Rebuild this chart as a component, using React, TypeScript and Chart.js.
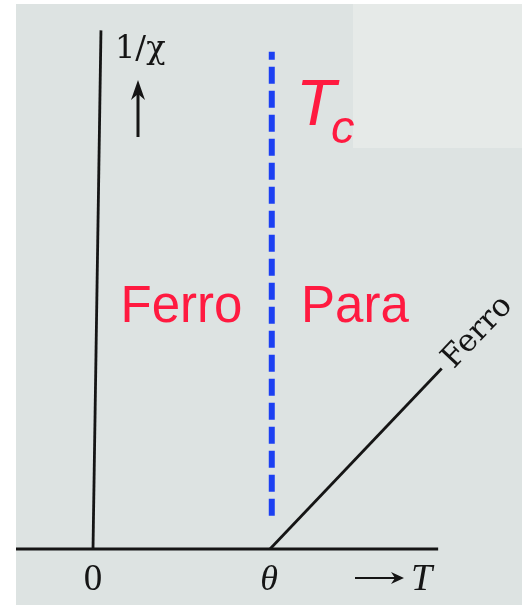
import { useEffect, useRef } from "react";
import { Chart, registerables } from "chart.js";

Chart.register(...registerables);

// Axes of the sketch, in (T, 1/χ) units where θ = 1
const T_AXIS_T = [-0.435, 1.95];
const T_AXIS_INV = [0, 0];
const CHI_AXIS_T = [0, 0.045];
const CHI_AXIS_INV = [0, 2.93];

// Curie–Weiss line above θ
const FERRO_T = [1, 1.97];
const FERRO_INV = [0, 1.02];

// Transition temperature marker
const TC_T = [1.01, 1.01];
const TC_INV = [2.81, 0.18];

// Axis tick labels
const TICK_VALUES = [0, 1];
const TICK_LABELS = ["0", "θ"];

// Region labels and their positions (T, 1/χ)
const REGION_LABELS = ["Ferro", "Para"];
const REGION_T = [0.5, 1.48];
const REGION_INV = [1.28, 1.28];

const X_MIN = -93 / 177;
const X_MAX = 429 / 177;
const Y_MIN = -56 / 177;
const Y_MAX = 549 / 177;

const INK = "#151515";
const RED = "#ff1a40";
const BLUE = "#1c40f2";

const pts = (xs: number[], ys: number[]) => xs.map((x, i) => ({ x, y: ys[i] }));

const sketchPlugin = {
  id: "sketch",
  beforeDraw(chart: any) {
    const { ctx, width, height } = chart;
    ctx.save();
    ctx.fillStyle = "#ffffff";
    ctx.fillRect(0, 0, width, height);
    ctx.fillStyle = "#dde3e2";
    ctx.fillRect(16, 4, width - 16, height - 4);
    ctx.fillStyle = "#e6eae8";
    ctx.fillRect(353, 4, width - 353, 144);
    ctx.restore();
  },
  afterDatasetsDraw(chart: any) {
    const { ctx } = chart;
    const xs = chart.scales.x;
    const ys = chart.scales.y;
    const px = (v: number) => xs.getPixelForValue(v);
    const py = (v: number) => ys.getPixelForValue(v);
    const y0 = py(0);
    ctx.save();

    // tick labels under the T axis
    ctx.fillStyle = INK;
    ctx.textAlign = "center";
    ctx.textBaseline = "alphabetic";
    TICK_VALUES.forEach((v, i) => {
      ctx.font = i === 0 ? "37px 'Liberation Serif'" : "italic 36px 'Liberation Serif'";
      ctx.fillText(TICK_LABELS[i], px(v) + (i === 0 ? 0 : -1), y0 + 41);
    });

    // "→ T"
    ctx.strokeStyle = INK;
    ctx.lineWidth = 2.2;
    ctx.beginPath();
    ctx.moveTo(355, y0 + 29);
    ctx.lineTo(398, y0 + 29);
    ctx.stroke();
    ctx.beginPath();
    ctx.moveTo(404, y0 + 29);
    ctx.lineTo(391, y0 + 23);
    ctx.lineTo(395, y0 + 29);
    ctx.lineTo(391, y0 + 35);
    ctx.closePath();
    ctx.fill();
    ctx.font = "italic 38px 'Liberation Serif'";
    ctx.textAlign = "left";
    ctx.fillText("T", 411, y0 + 41);

    // "1/χ" with an upward arrow
    ctx.font = "32px 'DejaVu Serif'";
    ctx.fillText("1/χ", 115, 58);
    ctx.lineWidth = 3;
    ctx.beginPath();
    ctx.moveTo(138, 137);
    ctx.lineTo(138, 92);
    ctx.stroke();
    ctx.beginPath();
    ctx.moveTo(138, 80);
    ctx.lineTo(131, 100);
    ctx.lineTo(138, 94);
    ctx.lineTo(145, 100);
    ctx.closePath();
    ctx.fill();

    // label along the Curie–Weiss line
    const ax = px(FERRO_T[0]);
    const ay = py(FERRO_INV[0]);
    const bx = px(FERRO_T[1]);
    const by = py(FERRO_INV[1]);
    const ang = Math.atan2(by - ay, bx - ax);
    ctx.save();
    ctx.translate(bx + 12, by + 1);
    ctx.rotate(ang);
    ctx.font = "31px 'DejaVu Serif'";
    ctx.textAlign = "left";
    ctx.fillText("Ferro", 0, 0);
    ctx.restore();

    // region labels
    ctx.fillStyle = RED;
    ctx.textAlign = "center";
    ctx.font = "51px 'Liberation Sans'";
    REGION_LABELS.forEach((lab, i) => {
      ctx.fillText(lab, px(REGION_T[i]), py(REGION_INV[i]));
    });

    // T_c
    ctx.textAlign = "left";
    ctx.font = "italic 65px 'Liberation Sans'";
    ctx.fillText("T", 296, 125);
    ctx.font = "italic 47px 'Liberation Sans'";
    ctx.fillText("c", 331, 143);

    ctx.restore();
  },
};

export default function App() {
  const ref = useRef<HTMLCanvasElement>(null);

  useEffect(() => {
    if (!ref.current) return;
    const line = (data: any, extra: any = {}) => ({
      data,
      borderColor: INK,
      borderWidth: 2.8,
      pointRadius: 0,
      showLine: true,
      fill: false,
      ...extra,
    });
    const chart = new Chart(ref.current, {
      type: "scatter",
      data: {
        datasets: [
          line(pts(T_AXIS_T, T_AXIS_INV)),
          line(pts(CHI_AXIS_T, CHI_AXIS_INV)),
          line(pts(FERRO_T, FERRO_INV)),
          line(pts(TC_T, TC_INV), {
            borderColor: BLUE,
            borderWidth: 6,
            borderDash: [17, 7],
            borderDashOffset: 9,
            borderCapStyle: "butt",
          }),
        ],
      },
      options: {
        animation: false,
        responsive: false,
        maintainAspectRatio: false,
        layout: { padding: 0 },
        plugins: { legend: { display: false }, tooltip: { enabled: false } },
        scales: {
          x: { type: "linear", min: X_MIN, max: X_MAX, display: false },
          y: { type: "linear", min: Y_MIN, max: Y_MAX, display: false },
        },
      },
      plugins: [sketchPlugin],
    });
    return () => chart.destroy();
  }, []);

  return (
    <div style={{ position: "fixed", left: 0, top: 0, width: 522, height: 605 }}>
      <canvas ref={ref} width={522} height={605} style={{ display: "block" }} />
    </div>
  );
}
